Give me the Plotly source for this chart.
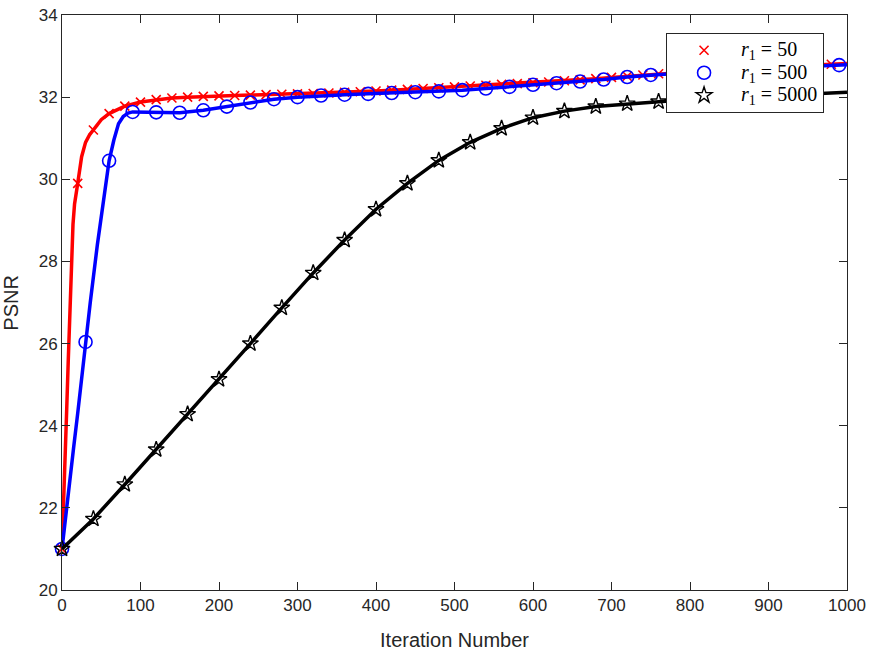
import plotly.graph_objects as go

# ---- data ----
red_mark_iter = list(range(0, 1000, 20))
red_mark_psnr = [21.0, 29.9, 31.2, 31.6, 31.78, 31.88, 31.94, 31.98, 32.0, 32.02,
                 32.03, 32.04, 32.05, 32.06, 32.07, 32.08, 32.09, 32.1, 32.12, 32.13,
                 32.15, 32.17, 32.19, 32.21, 32.23, 32.25, 32.27, 32.29, 32.31, 32.33,
                 32.35, 32.37, 32.4, 32.42, 32.45, 32.48, 32.51, 32.54, 32.57, 32.6,
                 32.62, 32.65, 32.67, 32.69, 32.71, 32.73, 32.75, 32.77, 32.78, 32.8]
red_early_iter = [2, 4, 6, 8, 10, 12, 14, 16, 18, 25, 30, 35, 50, 70, 990, 1000]
red_early_psnr = [22.0, 23.2, 24.4, 25.6, 26.7, 27.9, 28.9, 29.4, 29.7, 30.55, 30.9, 31.08, 31.45, 31.7, 32.81, 32.82]

blue_mark_iter = list(range(0, 1000, 30))
blue_mark_psnr = [21.0, 26.04, 30.45, 31.64, 31.63, 31.62, 31.68, 31.77, 31.87, 31.95,
                  32.0, 32.04, 32.06, 32.08, 32.1, 32.12, 32.14, 32.17, 32.21, 32.25,
                  32.3, 32.34, 32.38, 32.43, 32.49, 32.54, 32.58, 32.62, 32.65, 32.68,
                  32.71, 32.73, 32.76, 32.78]
blue_early_iter = [5, 10, 15, 20, 25, 36, 45, 52, 66, 72, 78, 84, 1000]
blue_early_psnr = [21.9, 22.7, 23.5, 24.3, 25.2, 27.0, 28.4, 29.4, 30.95, 31.35, 31.53, 31.61, 32.79]

black_mark_iter = list(range(0, 1000, 40))
black_mark_psnr = [21.0, 21.73, 22.57, 23.42, 24.28, 25.13, 26.0, 26.87, 27.72, 28.52,
                   29.27, 29.9, 30.46, 30.9, 31.24, 31.5, 31.66, 31.77, 31.84, 31.89,
                   31.94, 31.98, 32.02, 32.05, 32.09]
black_extra_iter = [1000]
black_extra_psnr = [32.12]

x_ticks = list(range(0, 1001, 100))
y_ticks = list(range(20, 35, 2))
legend_values = ["50", "500", "5000"]


def merged(xa, ya, xb, yb):
    pts = sorted(zip(list(xa) + list(xb), list(ya) + list(yb)))
    return [p[0] for p in pts], [p[1] for p in pts]


def legend_label(v):
    return ('<span style="font-size:20px"><i>r</i><sub>1</sub> = ' + v + '</span>')


fig = go.Figure()

series = [
    (red_mark_iter, red_mark_psnr, red_early_iter, red_early_psnr, "#ff0000",
     dict(symbol="x-thin", size=9, line=dict(color="#ff0000", width=1.6)), legend_values[0]),
    (blue_mark_iter, blue_mark_psnr, blue_early_iter, blue_early_psnr, "#0000ff",
     dict(symbol="circle-open", size=13, color="#0000ff", line=dict(width=1.6)), legend_values[1]),
    (black_mark_iter, black_mark_psnr, black_extra_iter, black_extra_psnr, "#000000",
     dict(symbol="star-open", size=12, color="#000000", line=dict(width=1.4)), legend_values[2]),
]

for mx, my, ex, ey, col, mk, val in series:
    lx, ly = merged(mx, my, ex, ey)
    fig.add_trace(go.Scatter(x=lx, y=ly, mode="lines", line=dict(color=col, width=3.5),
                             showlegend=False, hoverinfo="skip"))
    fig.add_trace(go.Scatter(x=mx, y=my, mode="markers", marker=mk, name=legend_label(val),
                             showlegend=True, cliponaxis=False))

axis_common = dict(showline=True, linecolor="#262626", linewidth=1, mirror="ticks",
                   ticks="inside", ticklen=8, tickcolor="#262626", tickwidth=1,
                   showgrid=False, zeroline=False, automargin=False,
                   tickfont=dict(family="Liberation Sans, Arial, sans-serif", size=17, color="#262626"))

fig.update_xaxes(range=[0, 1000], tickvals=x_ticks, **axis_common,
                 title=dict(text="Iteration Number", standoff=18,
                            font=dict(family="Liberation Sans, Arial, sans-serif", size=20, color="#262626")))
fig.update_yaxes(range=[20, 34], tickvals=y_ticks, **axis_common)

fig.add_annotation(text="PSNR", xref="paper", yref="paper", x=-0.066, y=0.5,
                   xanchor="center", yanchor="middle", textangle=-90, showarrow=False,
                   font=dict(family="Liberation Sans, Arial, sans-serif", size=20, color="#262626"))

fig.update_layout(
    width=874, height=656,
    margin=dict(l=62, r=27, t=15, b=66, autoexpand=False),
    paper_bgcolor="white", plot_bgcolor="white",
    legend=dict(x=0.7695, y=0.9687, xanchor="left", yanchor="top",
                bgcolor="white", bordercolor="#262626", borderwidth=1,
                itemwidth=64, tracegroupgap=0,
                font=dict(family="Liberation Serif, Times New Roman, serif", size=15, color="#000000")),
)

fig.write_html("out.html")
